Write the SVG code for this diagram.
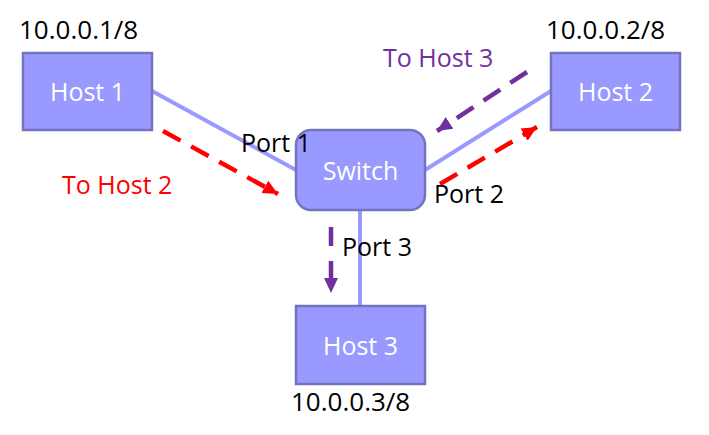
<svg xmlns="http://www.w3.org/2000/svg" width="709" height="435" viewBox="0 0 709 435">
<defs>
<style>
.box{fill:#9999FF;stroke:#7373BE;stroke-width:2.5}
.lbl{font-family:"Open Sans","Liberation Sans",sans-serif;font-size:25px}
.ip{font-size:26px}
.w{fill:#FFFFFF;text-anchor:middle}
.k{fill:#000000}
.link{stroke:#9999FF;stroke-width:4;fill:none}
.red{stroke:#FF0000;stroke-width:4.5;fill:none;stroke-dasharray:20 12}
.pur{stroke:#7030A0;stroke-width:4.5;fill:none;stroke-dasharray:20 12}
</style>
<marker id="ahR" markerUnits="userSpaceOnUse" markerWidth="16" markerHeight="16" viewBox="0 0 16 16" refX="15" refY="8" orient="auto">
<path d="M0,1 L15,8 L0,15 Z" fill="#FF0000"/>
</marker>
<marker id="ahP" markerUnits="userSpaceOnUse" markerWidth="16" markerHeight="16" viewBox="0 0 16 16" refX="15" refY="8" orient="auto">
<path d="M0,1 L15,8 L0,15 Z" fill="#7030A0"/>
</marker>
</defs>
<rect width="709" height="435" fill="#FFFFFF"/>
<g id="connectors">
<line class="link" x1="152" y1="91" x2="296" y2="170"/>
<line class="link" x1="425" y1="170" x2="551" y2="91"/>
<line class="link" x1="360" y1="210" x2="360" y2="306"/>
<line class="red" x1="163" y1="131" x2="278" y2="194" marker-end="url(#ahR)"/>
<line class="red" x1="440" y1="184" x2="537" y2="127" marker-end="url(#ahR)"/>
<line class="pur" x1="527" y1="72" x2="437" y2="131" marker-end="url(#ahP)"/>
<line class="pur" x1="331" y1="227" x2="331" y2="293" style="stroke-dasharray:19 15" marker-end="url(#ahP)"/>
</g>
<g id="host1">
<rect class="box" x="23" y="53" width="129" height="77"/>
<text class="lbl w" x="87.5" y="101">Host 1</text>
<text class="lbl ip k" x="19" y="39">10.0.0.1/8</text>
</g>
<g id="host2">
<rect class="box" x="551" y="53" width="129" height="77"/>
<text class="lbl w" x="615.5" y="101">Host 2</text>
<text class="lbl ip k" x="546" y="39">10.0.0.2/8</text>
</g>
<g id="host3">
<rect class="box" x="296" y="306" width="129" height="78"/>
<text class="lbl w" x="360.5" y="355">Host 3</text>
<text class="lbl ip k" x="291" y="411">10.0.0.3/8</text>
</g>
<g id="switch">
<rect class="box" x="296" y="130" width="129" height="80" rx="15" ry="15"/>
<text class="lbl w" x="360.5" y="180">Switch</text>
</g>
<g id="labels">
<text class="lbl k" x="241" y="152">Port 1</text>
<text class="lbl k" x="434" y="203">Port 2</text>
<text class="lbl k" x="342" y="256">Port 3</text>
<text class="lbl" x="62" y="194" fill="#FF0000">To Host 2</text>
<text class="lbl" x="383" y="67" fill="#7030A0">To Host 3</text>
</g>
</svg>
